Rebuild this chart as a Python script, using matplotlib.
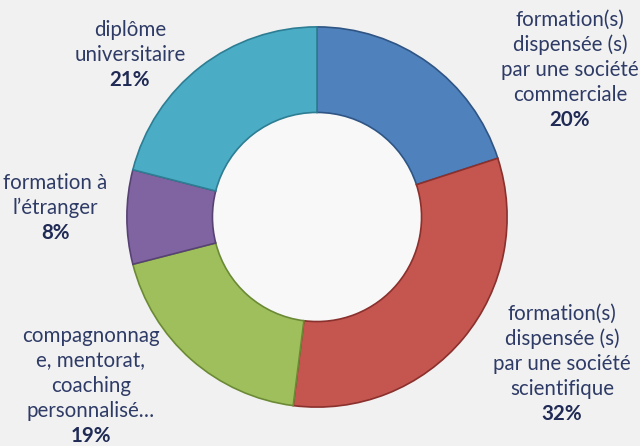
import matplotlib.pyplot as plt
from matplotlib.patches import Circle

# data
labels = [["formation(s)", "dispensée (s)", "par une société", "commerciale"],
          ["formation(s)", "dispensée (s)", "par une société", "scientifique"],
          ["compagnonnag", "e, mentorat,", "coaching", "personnalisé…"],
          ["formation à", "l’étranger"],
          ["diplôme", "universitaire"]]
values = [20, 32, 19, 8, 21]
colors = ["#4f81bd", "#c4554f", "#9fbf5c", "#8064a2", "#4bacc6"]
edges = ["#2f5584", "#8a302d", "#6b8a35", "#574273", "#2d7d93"]

# first-line position of each label block (pixels from top-left)
label_pos = [(570, 20), (562, 314), (91, 336), (55, 183), (130, 30)]
line_h = 25

W, H = 640, 446
fig = plt.figure(figsize=(6.4, 4.46), dpi=100, facecolor="#f1f1f1")

# donut
cx, cy, r = 317, 217, 192
ax = fig.add_axes([(cx - r) / W, 1 - (cy + r) / H, 2 * r / W, 2 * r / H])
ax.set_facecolor("none")
ax.add_patch(Circle((0, 0), 0.55, facecolor="#f8f8f8", edgecolor="none"))
wedges, _ = ax.pie(values, colors=colors, startangle=90, counterclock=False,
                   radius=1.0,
                   wedgeprops=dict(width=0.45, linewidth=1.2))
for w, e in zip(wedges, edges):
    w.set_edgecolor(e)
ax.set_xlim(-1.01, 1.01)
ax.set_ylim(-1.01, 1.01)
ax.set_aspect("equal")
ax.axis("off")

font = ["Lato", "DejaVu Sans"]
for lines, v, (x, y) in zip(labels, values, label_pos):
    for i, s in enumerate(lines):
        fig.text(x / W, 1 - (y + i * line_h) / H, s, ha="center", va="center",
                 fontsize=14.8, color="#2e3b66", family=font)
    fig.text(x / W, 1 - (y + len(lines) * line_h) / H, f"{v}%", ha="center",
             va="center", fontsize=14.8, color="#1f2a55", family=font,
             fontweight="bold")

fig.savefig("out.png", dpi=100, facecolor=fig.get_facecolor())
